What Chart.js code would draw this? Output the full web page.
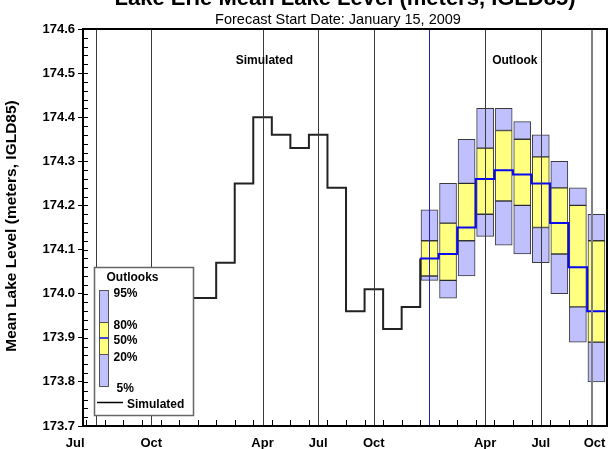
<!DOCTYPE html>
<html>
<head>
<meta charset="utf-8">
<title>Lake Erie Mean Lake Level</title>
<script src="https://cdn.jsdelivr.net/npm/chart.js@4.4.1/dist/chart.umd.min.js"></script>
<style>
    html, body { margin: 0; padding: 0; background: #fff; }
    #wrap { width: 608px; height: 449px; }
</style>
</head>
<body>
<div id="wrap"><canvas id="levelChart" width="608" height="449"></canvas></div>
<script>
// month index: 0 = Jul 2007, 18 = Jan 2009 (forecast start)
const simMonths = [5, 6, 7, 8, 9, 10, 11, 12, 13, 14, 15, 16, 17];
const simLevels = [173.99, 173.99, 174.07, 174.25, 174.40, 174.36, 174.33, 174.36, 174.24, 173.96, 174.01, 173.92, 173.97];

// outlook percentiles, Jan 2009 .. Oct 2009
const outlookMonths = [18, 19, 20, 21, 22, 23, 24, 25, 26, 27];
const p95 = [174.19, 174.25, 174.35, 174.42, 174.42, 174.39, 174.36, 174.30, 174.24, 174.18];
const p80 = [174.12, 174.16, 174.25, 174.33, 174.37, 174.35, 174.31, 174.24, 174.20, 174.12];
const p50 = [174.08, 174.09, 174.15, 174.26, 174.28, 174.27, 174.25, 174.16, 174.06, 173.96];
const p20 = [174.04, 174.03, 174.12, 174.18, 174.21, 174.20, 174.15, 174.09, 173.97, 173.89];
const p05 = [174.03, 173.99, 174.04, 174.13, 174.11, 174.09, 174.07, 174.00, 173.89, 173.80];

// axis labels and vertical lines
const monthLabels = ['Jul', 'Oct', 'Apr', 'Jul', 'Oct', 'Apr', 'Jul', 'Oct'];
const monthLabelPos = [-1.1, 3, 9, 12, 15, 21, 24, 26.9];
const gridMonths = [0, 3, 9, 12, 15, 21, 24];
const forecastStart = 18;
const outlookEnd = 26.75;

const FONT = '"Liberation Sans", Arial, sans-serif';
const LAVENDER = 'rgb(192,192,255)';
const YELLOW = 'rgb(255,255,128)';
const BLUE = 'rgb(10,10,240)';

// step lines: each monthly value spans half a month either side
const simPoints = simMonths.map((m, i) => ({ x: m - 0.5, y: simLevels[i] }));
simPoints.push({ x: forecastStart - 0.5, y: p50[0] });
const medianPoints = outlookMonths.map((m, i) => ({ x: m - 0.5, y: p50[i] }));
medianPoints.push({ x: outlookMonths[outlookMonths.length - 1] + 0.5, y: p50[p50.length - 1] });

function band(lo, hi) {
    return outlookMonths.map((m, i) => ({ x: m, y: [lo[i], hi[i]] }));
}

const boxStyle = {
    type: 'bar',
    grouped: false,
    barThickness: 17,
    borderColor: 'rgba(25,25,25,0.85)',
    borderWidth: 1,
    borderSkipped: false
};

function line(ctx, x1, y1, x2, y2) {
    ctx.beginPath();
    ctx.moveTo(x1, y1);
    ctx.lineTo(x2, y2);
    ctx.stroke();
}

const decorPlugin = {
    id: 'decor',
    afterDatasetsDraw(chart) {
        const { ctx, chartArea: a, scales: { x, y } } = chart;
        ctx.save();

        // vertical lines
        ctx.lineWidth = 1;
        ctx.strokeStyle = '#3a3a3a';
        gridMonths.forEach(m => {
            const px = Math.round(x.getPixelForValue(m)) + 0.5;
            line(ctx, px, a.top, px, a.bottom);
        });
        ctx.strokeStyle = '#2020c0';
        let px = Math.round(x.getPixelForValue(forecastStart)) + 0.5;
        line(ctx, px, a.top, px, a.bottom);
        ctx.strokeStyle = '#808080';
        ctx.lineWidth = 2;
        px = Math.round(x.getPixelForValue(outlookEnd));
        line(ctx, px, a.top, px, a.bottom);

        // minor ticks
        ctx.strokeStyle = '#000';
        ctx.lineWidth = 1;
        for (let i = 0; i <= 45; i++) {
            const py = Math.round(y.getPixelForValue(173.7 + i * 0.02)) + 0.5;
            line(ctx, a.left, py, a.left + 5, py);
        }
        for (let m = -1; m <= 27; m++) {
            const tx = Math.round(x.getPixelForValue(m + 0.5)) + 0.5;
            if (tx > a.left && tx < a.right) line(ctx, tx, a.bottom, tx, a.bottom - 6);
        }

        // frame
        ctx.lineWidth = 2;
        ctx.strokeStyle = '#000';
        ctx.strokeRect(a.left, a.top, a.right - a.left, a.bottom - a.top);

        // month labels
        ctx.fillStyle = '#000';
        ctx.font = 'bold 13px ' + FONT;
        ctx.textAlign = 'center';
        ctx.textBaseline = 'alphabetic';
        monthLabels.forEach((t, i) => ctx.fillText(t, x.getPixelForValue(monthLabelPos[i]), 447));

        // region notes
        ctx.font = 'bold 12px ' + FONT;
        ctx.textBaseline = 'middle';
        ctx.fillText('Simulated', x.getPixelForValue(9.1), 61);
        ctx.fillText('Outlook', x.getPixelForValue(22.6), 61);

        // titles
        ctx.font = 'bold 22px ' + FONT;
        ctx.textBaseline = 'alphabetic';
        ctx.fillText('Lake Erie Mean Lake Level (meters, IGLD85)', 345, 5);
        ctx.font = '14.5px ' + FONT;
        ctx.fillText('Forecast Start Date: January 15, 2009', 338, 24);

        ctx.save();
        ctx.translate(12, 226);
        ctx.rotate(-Math.PI / 2);
        ctx.font = 'bold 15.5px ' + FONT;
        ctx.textBaseline = 'middle';
        ctx.fillText('Mean Lake Level (meters, IGLD85)', 0, 0);
        ctx.restore();

        // legend
        ctx.fillStyle = '#fff';
        ctx.fillRect(94, 267, 100, 149);
        ctx.strokeStyle = '#666';
        ctx.lineWidth = 1.5;
        ctx.strokeRect(94.5, 267.5, 99, 148);

        ctx.lineWidth = 1;
        ctx.strokeStyle = '#555';
        ctx.fillStyle = LAVENDER;
        ctx.fillRect(99.5, 290.5, 9, 32);
        ctx.strokeRect(99.5, 290.5, 9, 32);
        ctx.fillRect(99.5, 354.5, 9, 32);
        ctx.strokeRect(99.5, 354.5, 9, 32);
        ctx.fillStyle = YELLOW;
        ctx.fillRect(99.5, 322.5, 9, 32);
        ctx.strokeRect(99.5, 322.5, 9, 32);
        ctx.strokeStyle = BLUE;
        ctx.lineWidth = 1.5;
        line(ctx, 99.5, 338, 108.5, 338);

        ctx.fillStyle = '#000';
        ctx.font = 'bold 12px ' + FONT;
        ctx.textAlign = 'left';
        ctx.textBaseline = 'middle';
        ctx.fillText('Outlooks', 106.5, 277.5);
        ctx.fillText('95%', 113.5, 293.5);
        ctx.fillText('80%', 113.5, 325.5);
        ctx.fillText('50%', 113.5, 341);
        ctx.fillText('20%', 113.5, 357.5);
        ctx.fillText('5%', 116.5, 388.5);
        ctx.fillText('Simulated', 127, 404.5);
        ctx.strokeStyle = '#000';
        ctx.lineWidth = 1.5;
        line(ctx, 97, 402.5, 123, 402.5);

        ctx.restore();
    }
};

const chart = new Chart(document.getElementById('levelChart').getContext('2d'), {
    type: 'bar',
    data: {
        datasets: [
            {
                type: 'line',
                label: 'Median',
                data: medianPoints,
                stepped: true,
                borderColor: BLUE,
                borderWidth: 2,
                pointRadius: 0,
                fill: false
            },
            {
                type: 'line',
                label: 'Simulated',
                data: simPoints,
                stepped: true,
                borderColor: '#222',
                borderWidth: 2,
                pointRadius: 0,
                fill: false
            },
            Object.assign({ label: '80-95%', data: band(p80, p95), backgroundColor: LAVENDER }, boxStyle),
            Object.assign({ label: '20-80%', data: band(p20, p80), backgroundColor: YELLOW }, boxStyle),
            Object.assign({ label: '5-20%', data: band(p05, p20), backgroundColor: LAVENDER }, boxStyle)
        ]
    },
    options: {
        responsive: false,
        animation: false,
        devicePixelRatio: 1,
        layout: { padding: { top: 29, right: 1, bottom: 23, left: 0 } },
        plugins: {
            legend: { display: false },
            tooltip: { enabled: false },
            title: { display: false }
        },
        scales: {
            x: {
                type: 'linear',
                display: false,
                offset: false,
                min: -0.68,
                max: 27.57
            },
            y: {
                min: 173.7,
                max: 174.6,
                border: { display: false },
                grid: { drawOnChartArea: false, drawTicks: true, tickLength: 5, color: '#000' },
                ticks: {
                    stepSize: 0.1,
                    padding: 3,
                    color: '#000',
                    font: { family: FONT, size: 13, weight: 'bold' },
                    callback: v => v.toFixed(1)
                },
                afterFit(scale) { scale.width = 83; }
            }
        }
    },
    plugins: [decorPlugin]
});
</script>
</body>
</html>
